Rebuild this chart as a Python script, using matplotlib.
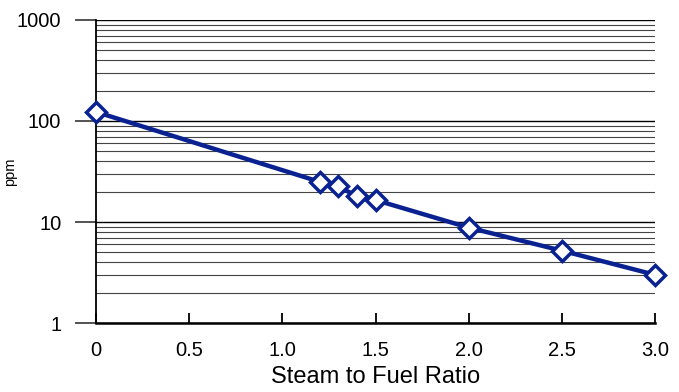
import matplotlib.pyplot as plt
from matplotlib.ticker import FixedLocator, NullFormatter

plt.rcParams['font.family'] = ['Liberation Sans', 'DejaVu Sans']

# steam to fuel ratio vs ppm
ratio = [0.0, 1.2, 1.3, 1.4, 1.5, 2.0, 2.5, 3.0]
ppm = [123, 25, 22.5, 18, 16.5, 8.8, 5.2, 3.0]
x_ticks = [0, 0.5, 1.0, 1.5, 2.0, 2.5, 3.0]
x_labels = ['0', '0.5', '1.0', '1.5', '2.0', '2.5', '3.0']
y_ticks = [1, 10, 100, 1000]
y_labels = ['1', '10', '100', '1000']

fig = plt.figure(figsize=(6.79, 3.92), dpi=100)
ax = fig.add_axes([0.1414, 0.176, 0.8233, 0.773])

ax.set_yscale('log')
ax.set_ylim(1, 1000)
ax.set_xlim(0, 3.0)

minors = [m * 10 ** e for e in range(0, 3) for m in range(2, 10)]
ax.yaxis.set_major_locator(FixedLocator(y_ticks))
ax.yaxis.set_minor_locator(FixedLocator(minors))
ax.yaxis.set_minor_formatter(NullFormatter())
ax.set_yticklabels(y_labels)
ax.set_xticks(x_ticks)
ax.set_xticklabels(x_labels)

ax.grid(True, which='major', axis='y', color='black', lw=1.0)
ax.grid(True, which='minor', axis='y', color='#444444', lw=0.8)
ax.set_axisbelow(True)

ax.plot(ratio, ppm, color='#0a2291', lw=3.2, marker='D', ms=10,
        mfc='white', mec='#0a2291', mew=2.5, clip_on=False, zorder=5)

for s in ['top', 'right']:
    ax.spines[s].set_visible(False)
ax.spines['left'].set_linewidth(1.3)
ax.spines['bottom'].set_linewidth(1.8)

ax.tick_params(axis='y', which='major', direction='out', length=15, width=1.3,
               color='#444444', labelsize=14.5, pad=10)
ax.tick_params(axis='y', which='minor', length=0)
ax.tick_params(axis='x', direction='in', length=7, width=1.3, labelsize=14.5, pad=13)

ax.set_xlabel('Steam to Fuel Ratio', fontsize=17, labelpad=4)
ax.set_ylabel('ppm', fontsize=10.5)
ax.yaxis.set_label_coords(-0.142, 0.5)

fig.savefig('out.png', dpi=100)
